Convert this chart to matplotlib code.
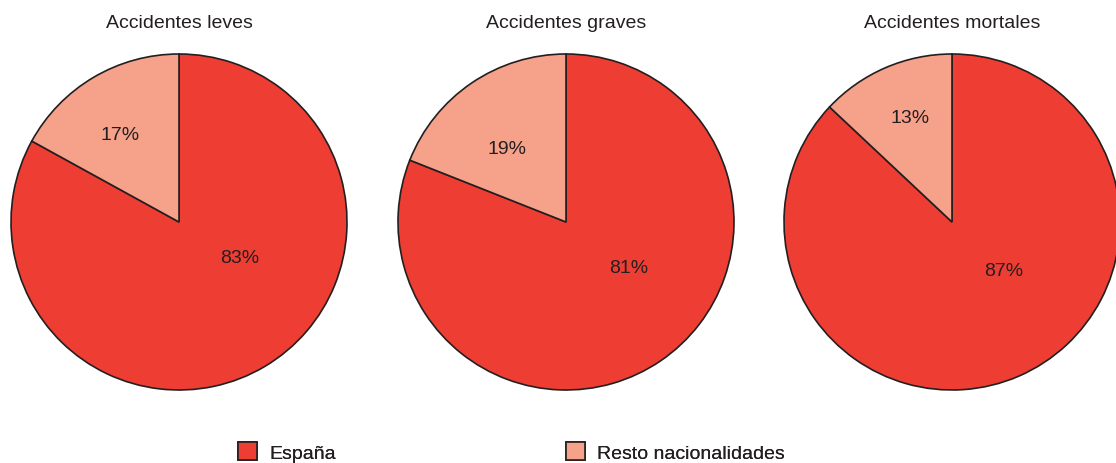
import matplotlib.pyplot as plt
from matplotlib.patches import Patch
import numpy as np

plt.rcParams['font.family'] = ['Liberation Sans', 'DejaVu Sans']

titles = ["Accidentes leves", "Accidentes graves", "Accidentes mortales"]
categories = ["España", "Resto nacionalidades"]
espana = [83, 81, 87]
resto = [17, 19, 13]

colors = ["#EE3D33", "#F6A18A"]
edge = "#231F20"

# label placement per pie: (angle deg, distance) for Espana and Resto labels
esp_pos = [(-30, 0.42), (-36, 0.46), (-43, 0.42)]
res_pos = [(124, 0.63), (129, 0.56), (112, 0.67)]

W, H = 1116, 464
fig = plt.figure(figsize=(W / 100, H / 100), dpi=100)

centers = [179, 566, 952]
R = 168
cy = 223

for i in range(3):
    cx = centers[i]
    ax = fig.add_axes([(cx - R) / W, (H - cy - R) / H, 2 * R / W, 2 * R / H])
    wedges, _ = ax.pie([espana[i], resto[i]], colors=colors, startangle=90, counterclock=False,
                       wedgeprops=dict(edgecolor=edge, linewidth=1.2), radius=1)
    for w in wedges:
        w.set_clip_on(False)
    ax.set_xlim(-1, 1)
    ax.set_ylim(-1, 1)
    ax.set_aspect("equal")
    for (ang, d), val in [(esp_pos[i], espana[i]), (res_pos[i], resto[i])]:
        a = np.radians(ang)
        ax.text(d * np.cos(a), d * np.sin(a), f"{val}%", ha="center", va="center",
                fontsize=14, color="#231F20")
    fig.text(cx / W, 1 - 23 / H, titles[i], ha="center", va="center", fontsize=14,
             color="#231F20")

legend_x = [238, 566]
for c, lab, lx in zip(colors, categories, legend_x):
    h = Patch(facecolor=c, edgecolor=edge, linewidth=1.2)
    leg = fig.legend([h], [lab], loc="lower left", bbox_to_anchor=(lx / W, 1 / H),
                     frameon=False, fontsize=14, borderpad=0, borderaxespad=0,
                     handlelength=1.0, handleheight=1.05, handletextpad=0.6,
                     labelcolor="#231F20")
    fig.add_artist(leg)

fig.savefig("out.png", dpi=100)
